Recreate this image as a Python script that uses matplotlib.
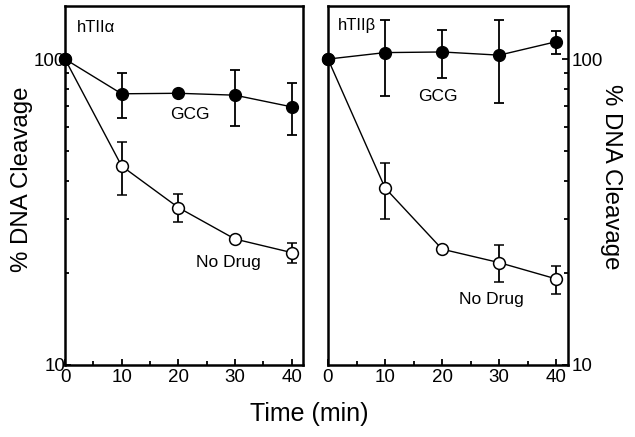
import numpy as np
import matplotlib.pyplot as plt
from matplotlib.ticker import LogLocator, NullFormatter, FixedLocator, FixedFormatter

plt.rcParams['font.family'] = ['Liberation Sans', 'DejaVu Sans']

# Time points (min)
time = [0, 10, 20, 30, 40]

# hTIIalpha panel
alpha_gcg = [100, 77, 77.3, 76.2, 69.8]
alpha_gcg_err = [0, 13, 0, 16, 13.5]
alpha_nodrug = [100, 44.7, 32.7, 25.8, 23.3]
alpha_nodrug_err = [0, 8.7, 3.4, 0, 1.8]

# hTIIbeta panel
beta_gcg = [100, 105, 105.5, 103, 114]
beta_gcg_err = [0, 29, 18.7, 31, 10]
beta_nodrug = [100, 37.9, 23.9, 21.6, 19.1]
beta_nodrug_err = [0, 8, 0, 3, 2]

fig = plt.figure(figsize=(6.35, 4.37), dpi=100)
ax1 = fig.add_axes([0.1024, 0.165, 0.3746, 0.821])
ax2 = fig.add_axes([0.5165, 0.165, 0.3775, 0.821])


def draw_panel(ax, gcg, gcg_err, nd, nd_err):
    ax.errorbar(time, nd, yerr=nd_err, fmt='-o', color='black', lw=1.0,
                mfc='white', mec='black', mew=1.1, ms=8.5, capsize=3.5,
                elinewidth=1.3, capthick=1.3, clip_on=False, zorder=3)
    ax.errorbar(time, gcg, yerr=gcg_err, fmt='-o', color='black', lw=1.0,
                mfc='black', mec='black', ms=8.5, capsize=3.5,
                elinewidth=1.3, capthick=1.3, clip_on=False, zorder=4)
    ax.set_yscale('log')
    ax.set_ylim(10, 149)
    ax.set_xlim(0, 42)
    for s in ax.spines.values():
        s.set_linewidth(1.8)
    ax.xaxis.set_major_locator(FixedLocator([0, 10, 20, 30, 40]))
    ax.xaxis.set_minor_locator(FixedLocator([5, 15, 25, 35]))
    ax.yaxis.set_major_locator(FixedLocator([10, 100]))
    ax.yaxis.set_major_formatter(FixedFormatter(['10', '100']))
    ax.yaxis.set_minor_locator(LogLocator(base=10, subs=np.arange(2, 10)))
    ax.yaxis.set_minor_formatter(NullFormatter())
    ax.tick_params(which='major', direction='in', length=4.5, width=1.3,
                   labelsize=13.5)
    ax.tick_params(which='minor', direction='in', length=3, width=1.3)
    ax.tick_params(axis='x', which='major', pad=3)


draw_panel(ax1, alpha_gcg, alpha_gcg_err, alpha_nodrug, alpha_nodrug_err)
draw_panel(ax2, beta_gcg, beta_gcg_err, beta_nodrug, beta_nodrug_err)

ax1.tick_params(axis='y', which='major', pad=0)

ax2.yaxis.tick_right()
ax2.tick_params(axis='y', which='major', pad=3)

# axis titles
fig.text(0.034, 0.59, '% DNA Cleavage', fontsize=17.3, rotation=90,
         ha='center', va='center')
fig.text(0.962, 0.595, '% DNA Cleavage', fontsize=17.3, rotation=270,
         ha='center', va='center')
fig.text(0.487, 0.053, 'Time (min)', fontsize=18, ha='center', va='center')

ax1.text(2.1, 127, 'hTIIα', fontsize=12, va='center', ha='left')
ax1.text(22.0, 66, 'GCG', fontsize=12.5, va='center', ha='center')
ax1.text(28.9, 21.6, 'No Drug', fontsize=12.5, va='center', ha='center')

ax2.text(1.75, 129, 'hTIIβ', fontsize=12, va='center', ha='left')
ax2.text(19.2, 75.7, 'GCG', fontsize=12.5, va='center', ha='center')
ax2.text(28.7, 16.4, 'No Drug', fontsize=12.5, va='center', ha='center')

fig.savefig('out.png', dpi=100)
